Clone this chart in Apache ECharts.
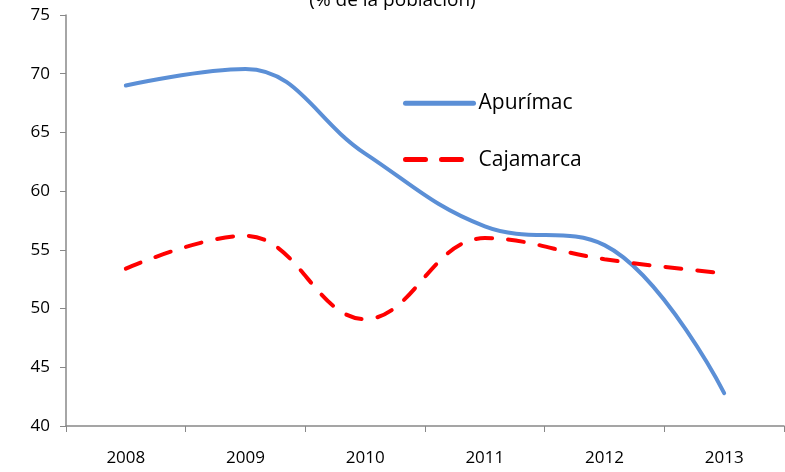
<!DOCTYPE html>
<html lang="es">
<head>
    <meta charset="UTF-8">
    <title>line</title>
    <script src="https://cdn.jsdelivr.net/npm/echarts@6/dist/echarts.min.js"></script>
</head>
<body style="margin:0;padding:0;">
<div id="chart" style="width:785px;height:472px;"></div>
<script>
    // años y valores
    var years = ['2008', '2009', '2010', '2011', '2012', '2013'];
    var apurimac = [69.0, 70.4, 63.2, 57.0, 55.4, 42.8];
    var cajamarca = [53.4, 56.2, 49.1, 56.0, 54.2, 53.0];
    var yTicks = [40, 45, 50, 55, 60, 65, 70, 75];

    var myChart = echarts.init(document.getElementById('chart'));
    var font = 'Open Sans, Liberation Sans, sans-serif';
    var option = {
        animation: false,
        title: {
            text: '(% de la población)',
            left: 'center',
            top: -14,
            textStyle: { fontFamily: font, fontSize: 19, fontWeight: 'normal', color: '#000' }
        },
        grid: { left: 66, right: 1, top: 15, bottom: 46 },
        legend: {
            left: 398,
            top: 87,
            orient: 'vertical',
            itemWidth: 68,
            itemHeight: 28,
            itemGap: 34,
            itemStyle: { opacity: 0 },
            textStyle: { fontFamily: font, fontSize: 21, color: '#000' },
            data: [
                { name: 'Apurímac', lineStyle: { color: '#5B8FD6', width: 5 } },
                { name: 'Cajamarca', lineStyle: { color: '#FF0000', width: 5, type: [20, 16] } }
            ]
        },
        xAxis: {
            type: 'category',
            data: years,
            boundaryGap: true,
            axisLine: { lineStyle: { color: '#888', width: 1.5 } },
            axisTick: { show: true, length: 6, lineStyle: { color: '#888' } },
            axisLabel: { fontFamily: font, fontSize: 17, color: '#000', margin: 24 }
        },
        yAxis: {
            type: 'value',
            min: yTicks[0],
            max: yTicks[yTicks.length - 1],
            interval: 5,
            splitLine: { show: false },
            axisLine: { show: true, lineStyle: { color: '#888', width: 1.5 } },
            axisTick: { show: true, length: 6, lineStyle: { color: '#888' } },
            axisLabel: { fontFamily: font, fontSize: 17, color: '#000', margin: 16 }
        },
        series: [
            {
                name: 'Apurímac',
                type: 'line',
                data: apurimac,
                smooth: 0.4,
                symbol: 'none',
                lineStyle: { color: '#5B8FD6', width: 4, cap: 'round' },
                itemStyle: { color: '#5B8FD6' }
            },
            {
                name: 'Cajamarca',
                type: 'line',
                data: cajamarca,
                smooth: 0.4,
                symbol: 'none',
                lineStyle: { color: '#FF0000', width: 4, type: [16, 16], cap: 'round' },
                itemStyle: { color: '#FF0000' }
            }
        ]
    };
    myChart.setOption(option);
</script>
</body>
</html>
